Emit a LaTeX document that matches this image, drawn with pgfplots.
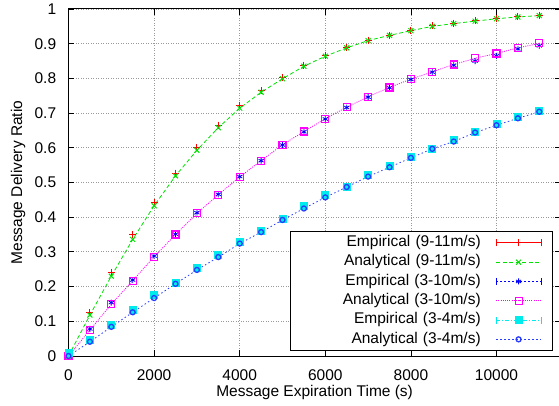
\documentclass[border=0pt]{standalone}
\usepackage{fontspec}
\setmainfont{Liberation Sans}
\usepackage{pgfplots}
\pgfplotsset{compat=1.18}

\definecolor{cgreen}{RGB}{0,225,0}
\definecolor{cmag}{RGB}{255,0,255}
\definecolor{cblue}{RGB}{0,0,255}
\definecolor{cblue2}{RGB}{40,60,255}
\definecolor{ccyan}{RGB}{0,235,235}

\begin{document}
\fontsize{15.5bp}{18bp}\selectfont
\begin{tikzpicture}
\begin{axis}[
    name=ax,
    scale only axis,
    width=492.2bp, height=347bp,
    xmin=0, xmax=11500, ymin=0, ymax=1,
    xtick={0,2000,4000,6000,8000,10000},
    ytick={0,0.1,0.2,0.3,0.4,0.5,0.6,0.7,0.8,0.9,1},
    scaled x ticks=false,
    scaled y ticks=false,
    /pgf/number format/assume math mode=true,
    /pgf/number format/1000 sep={},
    yticklabel style={/pgf/number format/fixed},
    xticklabel shift=8.7bp,
    yticklabel shift=7bp,
    tick align=inside,
    major tick length=6bp,
    tick style={black, line width=0.8bp},
    axis line style={line width=1bp},
    grid=major,
    major grid style={gray!80, line width=0.8bp, dash pattern=on 1bp off 1.5bp},
    xlabel={Message Expiration Time (s)},
    ylabel={Message Delivery Ratio},
    every axis x label/.style={at={([yshift=-40bp]axis description cs:0.5,0)}, anchor=base},
    every axis y label/.style={at={([xshift=-50.5bp]axis description cs:0,0.5)}, rotate=90, anchor=center},
    legend plot pos=right,
    legend style={at={(axis description cs:1,0)}, anchor=south east, xshift=-7.7bp, yshift=5bp,
        draw=black, line width=1bp, fill=white, inner xsep=11bp, inner ysep=1.5bp,
        column sep=15bp, row sep=0bp,
        nodes={inner xsep=0bp, inner ysep=2.4bp, text width=179bp, align=right, text height=11bp, text depth=3.5bp}},
    legend image code/.code={\draw[mark repeat=2,mark phase=2,#1] plot coordinates {(0bp,0bp)(22.5bp,0bp)(45bp,0bp)};},
    mark options={solid},
]
% Empirical (9-11m/s)
\addplot[red, only marks, mark=+, mark size=3.5bp, line width=1bp,
    legend image code/.code={\draw[red, line width=0.8bp] (0bp,0bp)--(45bp,0bp) (0bp,-3.5bp)--(0bp,3.5bp) (45bp,-3.5bp)--(45bp,3.5bp) (22.5bp,-3.5bp)--(22.5bp,3.5bp);}]
coordinates {(0,0.01)(500,0.126)(1000,0.242)(1500,0.350)(2000,0.443)(2500,0.527)(3000,0.601)(3500,0.665)(4000,0.722)(4500,0.765)(5000,0.803)(5500,0.838)(6000,0.866)(6500,0.889)(7000,0.910)(7500,0.925)(8000,0.939)(8500,0.951)(9000,0.959)(9500,0.966)(10000,0.973)(10500,0.978)(11000,0.982)};
\addlegendentry{Empirical (9-11m/s)}
% Analytical (9-11m/s)
\addplot[cgreen, mark=x, mark size=3.5bp, line width=0.8bp, dash pattern=on 4bp off 2.5bp, mark options={solid, line width=1bp}]
coordinates {(0,0)(500,0.118)(1000,0.230)(1500,0.336)(2000,0.433)(2500,0.519)(3000,0.593)(3500,0.658)(4000,0.714)(4500,0.760)(5000,0.799)(5500,0.835)(6000,0.864)(6500,0.888)(7000,0.909)(7500,0.924)(8000,0.9375)(8500,0.950)(9000,0.958)(9500,0.965)(10000,0.972)(10500,0.977)(11000,0.981)};
\addlegendentry{Analytical (9-11m/s)}
% Empirical (3-10m/s)
\addplot[cblue, only marks, mark=asterisk, mark size=3bp, line width=0.8bp,
    legend image code/.code={\draw[cblue, line width=0.8bp, dash pattern=on 1.5bp off 2.5bp] (0bp,0bp)--(45bp,0bp); \draw[cblue, line width=0.8bp] (0bp,-3.5bp)--(0bp,3.5bp) (45bp,-3.5bp)--(45bp,3.5bp); \draw[cblue, line width=0.8bp, mark=asterisk, mark size=3bp] plot coordinates {(22.5bp,0bp)};}]
coordinates {(0,0.005)(500,0.078)(1000,0.154)(1500,0.219)(2000,0.288)(2500,0.351)(3000,0.413)(3500,0.466)(4000,0.517)(4500,0.563)(5000,0.608)(5500,0.646)(6000,0.683)(6500,0.716)(7000,0.746)(7500,0.773)(8000,0.797)(8500,0.818)(9000,0.838)(9500,0.850)(10000,0.865)(10500,0.885)(11000,0.894)};
\addlegendentry{Empirical (3-10m/s)}
% Analytical (3-10m/s)
\addplot[cmag, mark=square, mark size=3.5bp, line width=0.8bp, dash pattern=on 1bp off 1.2bp, mark options={solid, line width=1.2bp}]
coordinates {(0,0)(500,0.075)(1000,0.149)(1500,0.217)(2000,0.286)(2500,0.350)(3000,0.411)(3500,0.465)(4000,0.516)(4500,0.563)(5000,0.609)(5500,0.647)(6000,0.684)(6500,0.717)(7000,0.747)(7500,0.774)(8000,0.798)(8500,0.819)(9000,0.840)(9500,0.858)(10000,0.872)(10500,0.888)(11000,0.901)};
\addlegendentry{Analytical (3-10m/s)}
% Empirical (3-4m/s)
\addplot[ccyan, only marks, mark=square*, mark size=3.5bp, line width=0.8bp,
    legend image code/.code={\draw[ccyan, line width=0.8bp, dash pattern=on 4bp off 2bp on 1bp off 2bp] (0bp,0bp)--(45bp,0bp); \draw[ccyan, line width=0.8bp] (0bp,-3.5bp)--(0bp,3.5bp) (45bp,-3.5bp)--(45bp,3.5bp); \draw[ccyan, mark=square*, mark size=3.5bp] plot coordinates {(22.5bp,0bp)};}]
coordinates {(0,0.01)(500,0.046)(1000,0.090)(1500,0.133)(2000,0.176)(2500,0.211)(3000,0.254)(3500,0.292)(4000,0.329)(4500,0.361)(5000,0.396)(5500,0.432)(6000,0.464)(6500,0.488)(7000,0.522)(7500,0.548)(8000,0.573)(8500,0.598)(9000,0.624)(9500,0.646)(10000,0.669)(10500,0.690)(11000,0.707)};
\addlegendentry{Empirical (3-4m/s)}
% Analytical (3-4m/s)
\addplot[cblue2, mark=o, mark size=2.5bp, line width=0.8bp, dash pattern=on 1.5bp off 2.5bp, mark options={solid, line width=1.3bp}]
coordinates {(0,0)(500,0.041)(1000,0.084)(1500,0.126)(2000,0.167)(2500,0.208)(3000,0.248)(3500,0.285)(4000,0.324)(4500,0.357)(5000,0.392)(5500,0.425)(6000,0.457)(6500,0.487)(7000,0.517)(7500,0.544)(8000,0.571)(8500,0.597)(9000,0.618)(9500,0.644)(10000,0.665)(10500,0.685)(11000,0.704)};
\addlegendentry{Analytical (3-4m/s)}
\end{axis}
\pgfresetboundingbox
\path ([shift={(-68.5bp,-50bp)}]ax.south west) rectangle ([shift={(-1.7bp,9bp)}]ax.north east);
\end{tikzpicture}
\end{document}
